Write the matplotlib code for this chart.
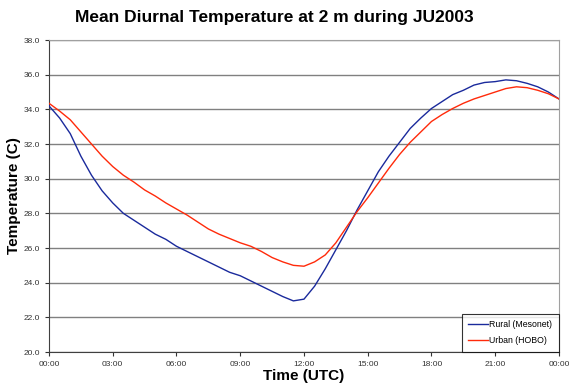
import numpy as np
import matplotlib.pyplot as plt

plt.rcParams['font.family'] = ['Liberation Sans', 'DejaVu Sans']

hours = [0.0, 0.5, 1.0, 1.5, 2.0, 2.5, 3.0, 3.5, 4.0, 4.5, 5.0, 5.5,
         6.0, 6.5, 7.0, 7.5, 8.0, 8.5, 9.0, 9.5, 10.0, 10.5, 11.0, 11.5,
         12.0, 12.5, 13.0, 13.5, 14.0, 14.5, 15.0, 15.5, 16.0, 16.5, 17.0, 17.5,
         18.0, 18.5, 19.0, 19.5, 20.0, 20.5, 21.0, 21.5, 22.0, 22.5, 23.0, 23.5, 24.0]

rural = [34.2, 33.5, 32.6, 31.3, 30.2, 29.3, 28.6, 28.0, 27.6, 27.2, 26.8, 26.5,
         26.1, 25.8, 25.5, 25.2, 24.9, 24.6, 24.4, 24.1, 23.8, 23.5, 23.2, 22.95,
         23.05, 23.8, 24.8, 25.9, 27.0, 28.2, 29.3, 30.4, 31.3, 32.1, 32.9, 33.5,
         34.05, 34.45, 34.85, 35.1, 35.4, 35.55, 35.6, 35.7, 35.65, 35.5, 35.3, 35.0, 34.6]

urban = [34.35, 33.9, 33.4, 32.7, 32.0, 31.3, 30.7, 30.2, 29.8, 29.35, 29.0, 28.6,
         28.25, 27.9, 27.5, 27.1, 26.8, 26.55, 26.3, 26.1, 25.8, 25.45, 25.2, 25.0,
         24.95, 25.2, 25.6, 26.3, 27.2, 28.1, 28.9, 29.75, 30.6, 31.4, 32.1, 32.7,
         33.3, 33.7, 34.05, 34.35, 34.6, 34.8, 35.0, 35.2, 35.3, 35.25, 35.1, 34.9, 34.6]

xticks = [0, 3, 6, 9, 12, 15, 18, 21, 24]
xlabels = ["00:00", "03:00", "06:00", "09:00", "12:00", "15:00", "18:00", "21:00", "00:00"]
yticks = np.arange(20, 38.1, 2)

fig = plt.figure(figsize=(5.69, 3.90), dpi=100)
ax = fig.add_axes([0.0861, 0.0974, 0.8963, 0.8000])

ax.plot(hours, rural, color="#1a2a9c", lw=1.0, label="Rural (Mesonet)", zorder=3)
ax.plot(hours, urban, color="#ff2a0a", lw=1.0, label="Urban (HOBO)", zorder=3)

ax.set_xlim(0, 24)
ax.set_ylim(20, 38)
ax.set_xticks(xticks)
ax.set_xticklabels(xlabels)
ax.set_yticks(yticks)
ax.set_yticklabels([f"{v:.1f}" for v in yticks])
ax.tick_params(labelsize=6, colors="#333333", length=3, width=0.8)
ax.yaxis.grid(True, color="#808080", lw=1.0)
ax.set_axisbelow(True)

for side in ["top", "right"]:
    ax.spines[side].set_color("#a0a0a0")
for side in ["left", "bottom"]:
    ax.spines[side].set_color("#404040")

fig.text(0.4815, 0.956, "Mean Diurnal Temperature at 2 m during JU2003", fontsize=12.5,
         fontweight="bold", ha="center", va="center")
ax.set_xlabel("Time (UTC)", fontsize=11, fontweight="bold", labelpad=1)
ax.set_ylabel("Temperature (C)", fontsize=11, fontweight="bold")
ax.yaxis.set_label_coords(-0.054, 0.5)

leg = ax.legend(loc="lower right", fontsize=6.3, frameon=True, fancybox=False,
                borderaxespad=0.05, handlelength=2.2, handletextpad=0.2,
                labelspacing=0.8, borderpad=0.7)
leg.get_frame().set_edgecolor("black")
leg.get_frame().set_linewidth(0.8)

plt.savefig("out.png", dpi=100)
